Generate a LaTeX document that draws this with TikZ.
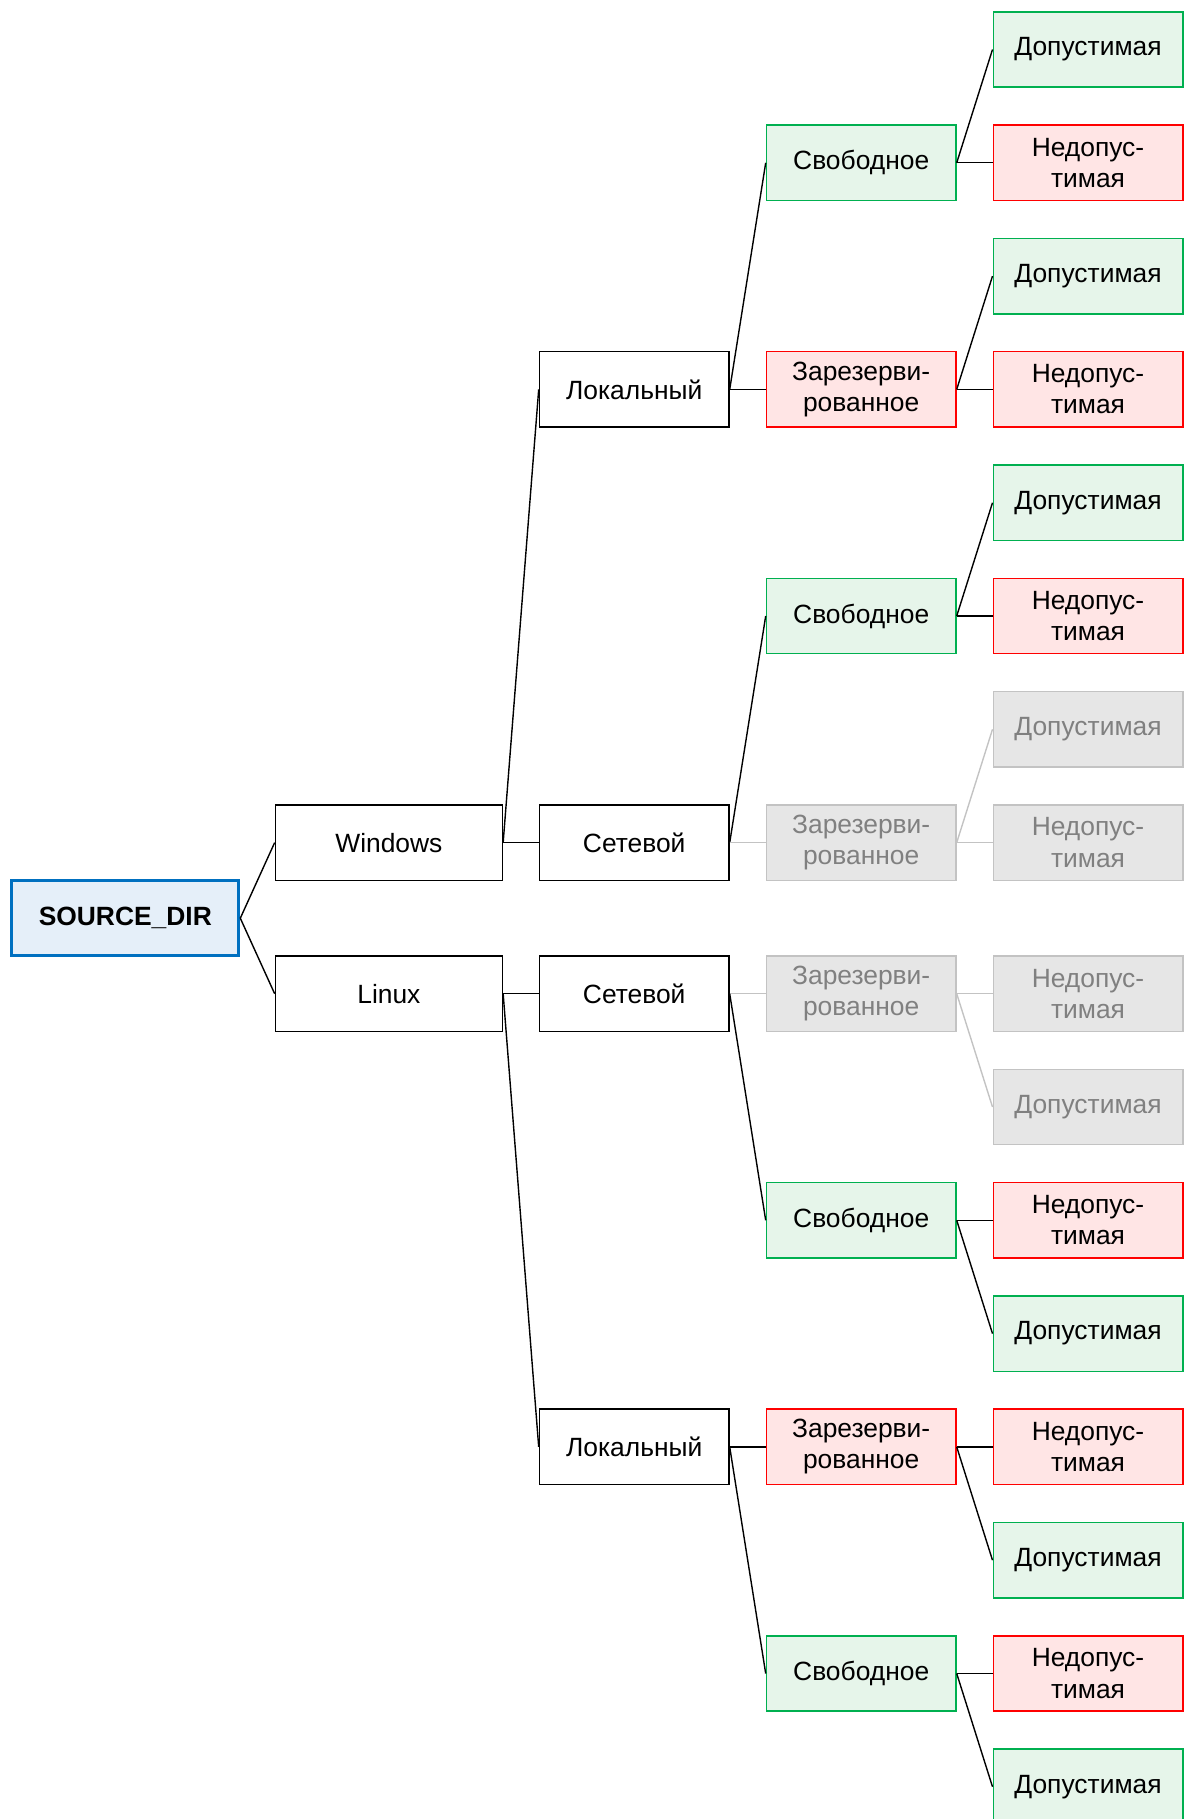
\documentclass[tikz,border=0pt]{standalone}
\usepackage{fontspec}
\setmainfont{Liberation Sans}
\usetikzlibrary{positioning}
\definecolor{okline}{HTML}{00B050}
\definecolor{okfill}{HTML}{E6F5EA}
\definecolor{badline}{HTML}{FF0000}
\definecolor{badfill}{HTML}{FFE5E5}
\definecolor{offline}{HTML}{C3C3C3}
\definecolor{offfill}{HTML}{E6E6E6}
\definecolor{offtext}{HTML}{808080}
\definecolor{rootline}{HTML}{0070C0}
\definecolor{rootfill}{HTML}{E5EFF9}

\begin{document}
\begin{tikzpicture}[
    x=0.5pt, y=-0.5pt,
    every node/.style={font=\fontsize{13.2}{15.6}\selectfont, inner sep=0pt, align=center},
    dirbox/.style={rectangle, draw, minimum height=37.7pt, line width=0.75pt, fill=white},
    wide/.style={minimum width=113.5pt},
    narrow/.style={minimum width=94.75pt},
    okbox/.style={dirbox, narrow, draw=okline, fill=okfill},
    badbox/.style={dirbox, narrow, draw=badline, fill=badfill},
    offbox/.style={dirbox, narrow, draw=offline, fill=offfill, text=offtext},
    rootbox/.style={dirbox, wide, draw=rootline, fill=rootfill, line width=1.5pt, font=\fontsize{13.2}{15.6}\selectfont\bfseries},
    link/.style={line width=0.7pt},
    offlink/.style={line width=0.7pt, draw=offline}
]
\useasboundingbox (0,0) rectangle (1188,1819);

% Root and systems
\node[rootbox] (src) at (125.3,918.2) {SOURCE\_DIR};
\node[dirbox, wide] (win) at (388.9,842.6) {Windows};
\node[dirbox, wide] (lin) at (388.9,993.7) {Linux};

% Windows branch
\node[dirbox, narrow] (winloc) at (634.2,389.4) {Локальный};
\node[dirbox, narrow] (winnet) at (634.2,842.6) {Сетевой};
\node[okbox] (winlocfree) at (861.2,162.8) {Свободное};
\node[badbox] (winlocres) at (861.2,389.4) {Зарезерви-\\рованное};
\node[okbox] (winnetfree) at (861.2,616.0) {Свободное};
\node[offbox] (winnetres) at (861.2,842.6) {Зарезерви-\\рованное};
\node[okbox] (winlocfreeok) at (1088,49.5) {Допустимая};
\node[badbox] (winlocfreebad) at (1088,162.8) {Недопус-\\тимая};
\node[okbox] (winlocresok) at (1088,276.1) {Допустимая};
\node[badbox] (winlocresbad) at (1088,389.4) {Недопус-\\тимая};
\node[okbox] (winnetfreeok) at (1088,502.7) {Допустимая};
\node[badbox] (winnetfreebad) at (1088,616.0) {Недопус-\\тимая};
\node[offbox] (winnetresok) at (1088,729.3) {Допустимая};
\node[offbox] (winnetresbad) at (1088,842.6) {Недопус-\\тимая};

% Linux branch
\node[dirbox, narrow] (linnet) at (634.2,993.7) {Сетевой};
\node[dirbox, narrow] (linloc) at (634.2,1446.9) {Локальный};
\node[offbox] (linnetres) at (861.2,993.7) {Зарезерви-\\рованное};
\node[okbox] (linnetfree) at (861.2,1220.3) {Свободное};
\node[badbox] (linlocres) at (861.2,1446.9) {Зарезерви-\\рованное};
\node[okbox] (linlocfree) at (861.2,1673.5) {Свободное};
\node[offbox] (linnetresbad) at (1088,993.7) {Недопус-\\тимая};
\node[offbox] (linnetresok) at (1088,1107.0) {Допустимая};
\node[badbox] (linnetfreebad) at (1088,1220.3) {Недопус-\\тимая};
\node[okbox] (linnetfreeok) at (1088,1333.6) {Допустимая};
\node[badbox] (linlocresbad) at (1088,1446.9) {Недопус-\\тимая};
\node[okbox] (linlocresok) at (1088,1560.2) {Допустимая};
\node[badbox] (linlocfreebad) at (1088,1673.5) {Недопус-\\тимая};
\node[okbox] (linlocfreeok) at (1088,1786.8) {Допустимая};

% Connections
\draw[link] (src.east) -- (win.west);
\draw[link] (src.east) -- (lin.west);
\draw[link] (win.east) -- (winloc.west);
\draw[link] (win.east) -- (winnet.west);
\draw[link] (winloc.east) -- (winlocfree.west);
\draw[link] (winloc.east) -- (winlocres.west);
\draw[link] (winnet.east) -- (winnetfree.west);
\draw[offlink] (winnet.east) -- (winnetres.west);
\draw[link] (winlocfree.east) -- (winlocfreeok.west);
\draw[link] (winlocfree.east) -- (winlocfreebad.west);
\draw[link] (winlocres.east) -- (winlocresok.west);
\draw[link] (winlocres.east) -- (winlocresbad.west);
\draw[link] (winnetfree.east) -- (winnetfreeok.west);
\draw[link] (winnetfree.east) -- (winnetfreebad.west);
\draw[offlink] (winnetres.east) -- (winnetresok.west);
\draw[offlink] (winnetres.east) -- (winnetresbad.west);
\draw[link] (lin.east) -- (linnet.west);
\draw[link] (lin.east) -- (linloc.west);
\draw[offlink] (linnet.east) -- (linnetres.west);
\draw[link] (linnet.east) -- (linnetfree.west);
\draw[link] (linloc.east) -- (linlocres.west);
\draw[link] (linloc.east) -- (linlocfree.west);
\draw[offlink] (linnetres.east) -- (linnetresbad.west);
\draw[offlink] (linnetres.east) -- (linnetresok.west);
\draw[link] (linnetfree.east) -- (linnetfreebad.west);
\draw[link] (linnetfree.east) -- (linnetfreeok.west);
\draw[link] (linlocres.east) -- (linlocresbad.west);
\draw[link] (linlocres.east) -- (linlocresok.west);
\draw[link] (linlocfree.east) -- (linlocfreebad.west);
\draw[link] (linlocfree.east) -- (linlocfreeok.west);

\end{tikzpicture}
\end{document}
